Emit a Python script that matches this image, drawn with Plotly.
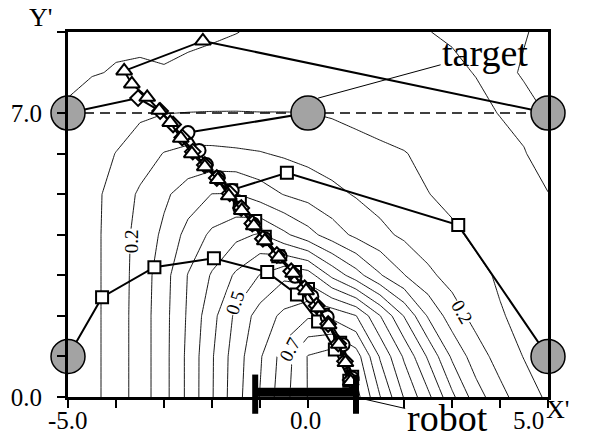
import plotly.graph_objects as go

# ---- potential field sampled on a regular grid (x step 0.5, y step 1) ----
grid_x = [-5.0, -4.5, -4.0, -3.5, -3.0, -2.5, -2.0, -1.5, -1.0, -0.5, 0.0,
          0.5, 1.0, 1.5, 2.0, 2.5, 3.0, 3.5, 4.0, 4.5, 5.0]
grid_y = [0, 1, 2, 3, 4, 5, 6, 7, 8, 9]
field_y0 = [0.120, 0.135, 0.175, 0.222, 0.283, 0.362, 0.446, 0.531, 0.602, 0.683, 0.752,
            0.790, 0.770, 0.652, 0.547, 0.463, 0.362, 0.273, 0.215, 0.174, 0.142]
field_y1 = [0.120, 0.135, 0.175, 0.222, 0.283, 0.362, 0.445, 0.527, 0.594, 0.673, 0.753,
            0.776, 0.725, 0.595, 0.493, 0.393, 0.292, 0.223, 0.181, 0.148, 0.137]
field_y2 = [0.120, 0.135, 0.175, 0.222, 0.283, 0.357, 0.433, 0.511, 0.572, 0.612, 0.643,
            0.638, 0.602, 0.502, 0.398, 0.295, 0.224, 0.183, 0.153, 0.140, 0.133]
field_y3 = [0.120, 0.135, 0.175, 0.220, 0.280, 0.352, 0.405, 0.458, 0.502, 0.540, 0.525,
            0.438, 0.372, 0.305, 0.252, 0.210, 0.183, 0.160, 0.145, 0.135, 0.125]
field_y4 = [0.120, 0.135, 0.175, 0.217, 0.260, 0.317, 0.360, 0.387, 0.405, 0.361, 0.318,
            0.275, 0.239, 0.213, 0.191, 0.174, 0.157, 0.143, 0.135, 0.125, 0.115]
field_y5 = [0.118, 0.135, 0.171, 0.207, 0.241, 0.273, 0.301, 0.302, 0.275, 0.248, 0.232,
            0.213, 0.196, 0.181, 0.166, 0.151, 0.140, 0.130, 0.120, 0.109, 0.1005]
field_y6 = [0.115, 0.132, 0.151, 0.176, 0.202, 0.213, 0.212, 0.208, 0.203, 0.194, 0.184,
            0.175, 0.165, 0.158, 0.152, 0.140, 0.128, 0.119, 0.110, 0.101, 0.092]
field_y7 = [0.105, 0.118, 0.130, 0.142, 0.149, 0.151, 0.152, 0.152, 0.151, 0.151, 0.1505,
            0.146, 0.140, 0.134, 0.127, 0.120, 0.114, 0.107, 0.099, 0.095, 0.101]
field_y8 = [0.092, 0.098, 0.102, 0.103, 0.101, 0.103, 0.105, 0.110, 0.115, 0.117, 0.118,
            0.118, 0.117, 0.115, 0.112, 0.109, 0.105, 0.099, 0.096, 0.1015, 0.106]
field_y9 = [0.085, 0.090, 0.094, 0.095, 0.096, 0.097, 0.098, 0.0995, 0.103, 0.105, 0.106,
            0.106, 0.105, 0.104, 0.102, 0.1005, 0.097, 0.095, 0.095, 0.099, 0.104]
field_z = [field_y0, field_y1, field_y2, field_y3, field_y4,
           field_y5, field_y6, field_y7, field_y8, field_y9]

# contour labels
label_text = ["0.2", "0.5", "0.7", "0.2"]
label_x = [-3.68, -1.52, -0.38, 3.20]
label_y = [3.85, 2.33, 1.17, 2.10]
label_angle = [-90, -72, -62, 60]

# ---- target positions ----
target_x = [-5.0, 0.0, 5.0, -5.0, 5.0]
target_y = [7.0, 7.0, 7.0, 1.0, 1.0]
target_line_x = [-5.0, 5.0]
target_line_y = [7.0, 7.0]

# ---- robot ----
robot_x = [-1.1, 1.0]
robot_y = [0.12, 0.12]
robot_cap_y = [0.07, 0.07]

# ---- trajectories (start at a target, end at the robot) ----
tri_x = [5.0, -2.19, -3.83, -3.67, -3.35, -3.10, -2.87, -2.65, -2.42, -2.15, -1.88,
         -1.65, -1.38, -1.13, -0.90, -0.61, -0.31, -0.04, 0.21, 0.43, 0.64, 0.78, 0.89, 0.95]
tri_y = [7.0, 8.78, 8.04, 7.72, 7.39, 7.07, 6.77, 6.38, 6.00, 5.68, 5.36,
         4.96, 4.60, 4.22, 3.85, 3.45, 3.05, 2.62, 2.20, 1.78, 1.30, 0.85, 0.38, 0.12]

dia_x = [-5.0, -3.54, -3.08, -2.81, -2.62, -2.40, -2.15, -1.90, -1.63, -1.39, -1.16,
         -0.94, -0.65, -0.35, -0.07, 0.18, 0.42, 0.63, 0.77, 0.89, 0.95]
dia_y = [7.0, 7.37, 7.05, 6.72, 6.40, 6.05, 5.72, 5.40, 5.02, 4.66, 4.28,
         3.90, 3.50, 3.10, 2.68, 2.25, 1.80, 1.32, 0.88, 0.42, 0.12]

cir_x = [0.0, -2.50, -2.27, -2.12, -1.87, -1.58, -1.42, -1.15, -0.90, -0.58, -0.27,
         0.08, 0.40, 0.73, 0.92, 0.95]
cir_y = [7.0, 6.52, 6.08, 5.73, 5.41, 5.09, 4.66, 4.27, 3.90, 3.47, 2.98,
         2.48, 1.97, 1.29, 0.47, 0.12]

sqa_x = [5.0, 3.13, -0.44, -1.60, -1.42, -1.10, -0.90, -0.62, -0.27, 0.00, 0.31, 0.67, 0.92, 0.95]
sqa_y = [1.0, 4.24, 5.53, 5.10, 4.81, 4.34, 3.95, 3.47, 3.08, 2.66, 2.03, 1.34, 0.50, 0.12]

sqb_x = [-5.0, -4.29, -3.20, -1.96, -0.85, -0.23, 0.21, 0.56, 0.86, 0.95]
sqb_y = [1.0, 2.46, 3.20, 3.42, 3.08, 2.53, 1.86, 1.17, 0.40, 0.12]

# ---- axes ----
x_ticks = [-5, -4, -3, -2, -1, 0, 1, 2, 3, 4, 5]
x_label_vals = [-5.0, 0.0, 5.0]
x_label_text = ["-5.0", "0.0", "5.0"]
x_label_shift = [0, -3, -20]
y_ticks = [0, 1, 2, 3, 4, 5, 6, 7, 9]
y_tick_text = ["0.0", "", "", "", "", "", "", "7.0", ""]

SERIF = "Liberation Serif"
fig = go.Figure()

fig.add_trace(go.Contour(
    x=grid_x, y=grid_y, z=field_z,
    contours=dict(start=0.1, end=0.76, size=0.05, coloring="none", showlabels=False),
    line=dict(color="black", width=0.9, smoothing=0),
    showscale=False, hoverinfo="skip",
))

fig.add_trace(go.Scatter(
    x=target_line_x, y=target_line_y, mode="lines",
    line=dict(color="black", width=1.5, dash="10px,6px"), hoverinfo="skip",
))


def add_path(xs, ys, symbol, size):
    fig.add_trace(go.Scatter(x=xs, y=ys, mode="lines",
                             line=dict(color="black", width=2), hoverinfo="skip"))
    fig.add_trace(go.Scatter(
        x=xs[1:-1], y=ys[1:-1], mode="markers",
        marker=dict(symbol=symbol, size=size, color="white",
                    line=dict(color="black", width=2)),
        hoverinfo="skip"))


add_path(sqa_x, sqa_y, "square", 12)
add_path(sqb_x, sqb_y, "square", 12)
add_path(cir_x, cir_y, "circle", 13)
add_path(dia_x, dia_y, "diamond", 12)
add_path(tri_x, tri_y, "triangle-up", 14)

# robot body and end caps
fig.add_trace(go.Scatter(x=robot_x, y=robot_y, mode="lines",
                         line=dict(color="black", width=9), hoverinfo="skip"))
fig.add_trace(go.Scatter(x=robot_x, y=robot_cap_y, mode="markers", cliponaxis=False,
                         marker=dict(symbol="line-ns", size=28,
                                     line=dict(color="black", width=6)),
                         hoverinfo="skip"))

# targets
fig.add_trace(go.Scatter(x=target_x, y=target_y, mode="markers", cliponaxis=False,
                         marker=dict(symbol="circle", size=34, color="#a3a3a3",
                                     line=dict(color="black", width=1.5)),
                         hoverinfo="skip"))

annotations = []
for t, lx, ly, ang in zip(label_text, label_x, label_y, label_angle):
    annotations.append(dict(x=lx, y=ly, text=t, showarrow=False, textangle=ang,
                            font=dict(family=SERIF, size=19, color="black"),
                            bgcolor="white", borderpad=0))

for v, t, s in zip(x_label_vals, x_label_text, x_label_shift):
    annotations.append(dict(x=v, y=0, text=t, showarrow=False, xshift=s, yshift=-23,
                            font=dict(family=SERIF, size=25, color="black")))

annotations += [
    dict(x=0.21, y=7.37, ax=3.69, ay=8.49, axref="x", ayref="y", text="target",
         showarrow=True, arrowhead=0, arrowwidth=1, arrowcolor="black",
         font=dict(family=SERIF, size=38, color="black")),
    dict(x=0.98, y=0.0, ax=2.9, ay=-0.52, axref="x", ayref="y", text="robot",
         showarrow=True, arrowhead=0, arrowwidth=1, arrowcolor="black",
         font=dict(family=SERIF, size=38, color="black")),
    dict(x=1.0, y=0, xref="paper", yref="y", text="X'", showarrow=False,
         xanchor="left", xshift=-4, yshift=-12,
         font=dict(family=SERIF, size=26, color="black")),
    dict(x=0, y=1.0, xref="paper", yref="paper", text="Y'", showarrow=False,
         xanchor="right", yanchor="bottom", xshift=-14, yshift=-2,
         font=dict(family=SERIF, size=26, color="black")),
]

fig.update_layout(
    width=592, height=439,
    margin=dict(l=68, r=44, t=32, b=42, autoexpand=False),
    paper_bgcolor="white", plot_bgcolor="white",
    showlegend=False,
    annotations=annotations,
    font=dict(family=SERIF, size=25, color="black"),
)
fig.update_xaxes(range=[-5, 5], tickvals=x_ticks, showticklabels=False,
                 ticks="outside", ticklen=8, tickwidth=1.5, tickcolor="black",
                 showline=True, linewidth=3, linecolor="black", mirror=True,
                 showgrid=False, zeroline=False, automargin=False)
fig.update_yaxes(range=[0, 9], tickvals=y_ticks, ticktext=y_tick_text,
                 ticks="outside", ticklen=8, tickwidth=1.5, tickcolor="black",
                 ticklabelstandoff=10,
                 showline=True, linewidth=3, linecolor="black", mirror=True,
                 showgrid=False, zeroline=False, automargin=False,
                 tickfont=dict(family=SERIF, size=25, color="black"))

fig.write_html("out.html")
